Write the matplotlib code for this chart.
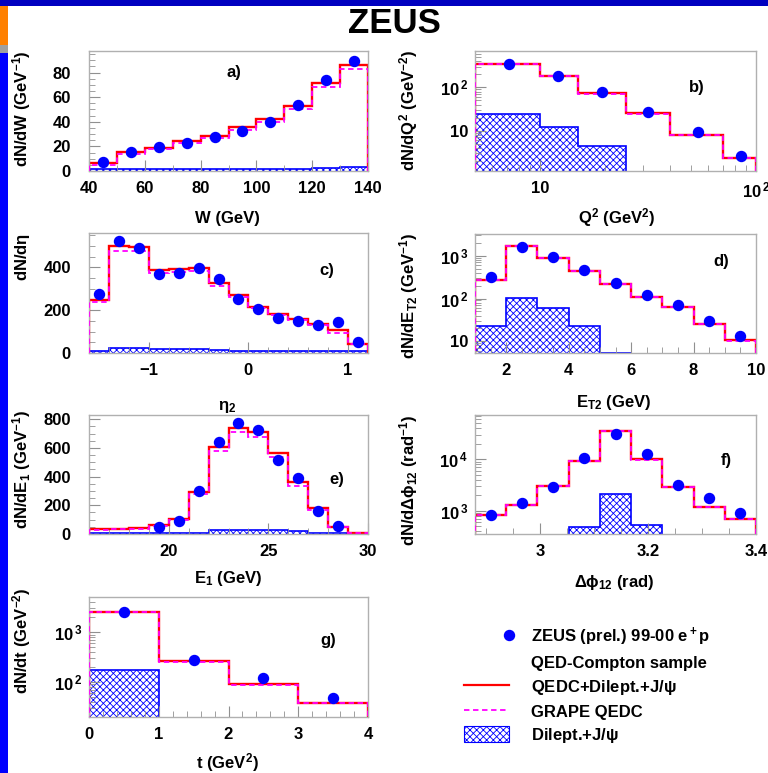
import numpy as np
import matplotlib
matplotlib.use('Agg')
import matplotlib.pyplot as plt
from matplotlib.ticker import MultipleLocator, AutoMinorLocator, LogLocator, FuncFormatter, NullFormatter
from matplotlib.lines import Line2D
from matplotlib.patches import Patch, Rectangle
from matplotlib.legend_handler import HandlerLine2D

plt.rcParams['font.family'] = ['Liberation Sans', 'DejaVu Sans']
plt.rcParams['font.weight'] = 'bold'
plt.rcParams['mathtext.fontset'] = 'custom'
plt.rcParams['mathtext.rm'] = 'Liberation Sans:bold'
plt.rcParams['mathtext.it'] = 'Liberation Sans:bold'
plt.rcParams['mathtext.bf'] = 'Liberation Sans:bold'
plt.rcParams['hatch.color'] = 'blue'
plt.rcParams['hatch.linewidth'] = 0.6

########################
# Data
########################
# a) W
w_edges = [40, 50, 60, 70, 80, 90, 100, 110, 120, 130, 140]
w_centers = [45, 55, 65, 75, 85, 95, 105, 115, 125, 135]
w_data = [7.6, 15.7, 19.5, 23.0, 27.9, 32.8, 39.8, 53.9, 74.0, 89.2]
w_qedc = [6.2, 15.2, 19.0, 24.7, 28.7, 35.5, 42.3, 53.1, 71.3, 86.4]
w_grape = [5.0, 13.5, 17.5, 23.0, 27.0, 33.5, 40.0, 50.5, 68.0, 82.5]
w_dilep = [1.5, 1.5, 1.5, 1.5, 1.5, 1.5, 1.5, 1.8, 2.5, 3.0]

# b) Q2
q2_edges = [5, 10, 15, 25, 40, 70, 100]
q2_centers = [7.2, 12.1, 19.3, 31.7, 54, 85]
q2_data = [350, 180, 77, 27, 9.3, 2.6]
q2_qedc = [345, 185, 73, 25, 8.0, 2.4]
q2_grape = [340, 181, 71, 24.5, 7.9, 2.35]
q2_dil_edges = [5, 10, 15, 25]
q2_dilep = [24, 12.4, 4.5]

# c) eta2
eta_edges = [-1.6, -1.4, -1.2, -1.0, -0.8, -0.6, -0.4, -0.2, 0.0, 0.2, 0.4, 0.6, 0.8, 1.0, 1.2]
eta_centers = [-1.5, -1.3, -1.1, -0.9, -0.7, -0.5, -0.3, -0.1, 0.1, 0.3, 0.5, 0.7, 0.9, 1.1]
eta_data = [276, 525, 489, 368, 375, 399, 346, 252, 206, 164, 150, 131, 143, 50]
eta_qedc = [249, 501, 495, 389, 392, 399, 327, 271, 215, 184, 159, 135, 109, 44]
eta_grape = [237, 475, 475, 375, 380, 385, 315, 262, 208, 178, 153, 130, 95, 40]
eta_dilep = [10, 25, 25, 18, 18, 18, 12, 10, 10, 10, 10, 10, 10, 8]

# d) ET2
et_edges = [1, 2, 3, 4, 5, 6, 7, 8, 9, 10]
et_centers = [1.5, 2.5, 3.5, 4.5, 5.5, 6.5, 7.5, 8.5, 9.5]
et_data = [316, 1630, 948, 454, 232, 118, 70, 30, 13]
et_qedc = [279, 1720, 897, 436, 217, 111, 63, 26, 10.5]
et_grape = [275, 1700, 885, 430, 214, 110, 62, 25.5, 10.3]
et_dil_edges = [1, 2, 3, 4, 5, 6]
et_dilep = [22.4, 103, 60, 22.4, 5.3]

# e) E1
e1_edges = [16, 17, 18, 19, 20, 21, 22, 23, 24, 25, 26, 27, 28, 29, 30]
e1_centers = [19.5, 20.5, 21.5, 22.5, 23.5, 24.5, 25.5, 26.5, 27.5, 28.5]
e1_data = [51, 93, 301, 645, 777, 725, 517, 394, 158, 58]
e1_qedc = [35, 37, 40, 65, 104, 290, 610, 739, 711, 568, 366, 181, 51, 7]
e1_grape = [30, 32, 35, 58, 96, 280, 580, 711, 680, 538, 336, 170, 47, 6]
e1_dilep = [5, 5, 5, 5, 5, 8, 25, 28, 28, 30, 20, 8, 5, 5]

# f) delta phi12
dphi_edges = [2.88, 2.9378, 2.9956, 3.0533, 3.1111, 3.1689, 3.2267, 3.2844, 3.3422, 3.40]
dphi_centers = [2.909, 2.967, 3.024, 3.082, 3.140, 3.198, 3.256, 3.313, 3.371]
dphi_data = [820, 1390, 2940, 10800, 30800, 12700, 3210, 1790, 890]
dphi_qedc = [825, 1290, 3070, 9440, 35700, 10000, 2900, 1200, 688]
dphi_grape = [810, 1270, 3020, 9300, 35000, 9850, 2850, 1180, 675]
dphi_dil_edges = [3.0533, 3.1111, 3.1689, 3.2267]
dphi_dilep = [488, 2120, 525]

# g) t
t_edges = [0, 1, 2, 3, 4]
t_centers = [0.5, 1.5, 2.5, 3.5]
t_data = [2600, 284, 122, 47]
t_qedc = [2550, 263, 90, 39]
t_grape = [2500, 258, 88, 38]
t_dil_edges = [0, 1]
t_dilep = [174]

W, H = 768, 773
fig = plt.figure(figsize=(W / 100, H / 100), dpi=100)
HATCH = 'xxxxx'


def px_axes(left, top, right, bottom):
    return fig.add_axes([left / W, 1 - bottom / H, (right - left) / W, (bottom - top) / H])


def log_fmt(v, pos):
    e = int(round(np.log10(v)))
    if e == 1:
        return '10'
    return '10$^{\\,%d}$' % e


def draw_panel(ax, edges, centers, data, qedc, grape, dil_edges, dilep, ylim, log=False, tag='', tagpos=(0.85, 0.7)):
    base = ylim[0] / 10 if log else 0
    if log:
        ax.set_yscale('log')
    ax.stairs(dilep, dil_edges, baseline=base, fill=True, facecolor='white', edgecolor='blue',
              hatch=HATCH, lw=1.2, zorder=1)
    ax.stairs(qedc, edges, baseline=base, color='red', lw=1.7, zorder=2)
    ax.stairs(grape, edges, baseline=base, color='magenta', lw=1.3, ls=(0, (3, 2)), zorder=3)
    ax.plot(centers, data, 'o', color='blue', ms=7.2, zorder=4, clip_on=False)
    ax.set_xlim(edges[0], edges[-1])
    ax.set_ylim(*ylim)
    ax.text(tagpos[0], tagpos[1], tag, transform=ax.transAxes, fontsize=12, ha='center', va='center')
    for s in ax.spines.values():
        s.set_color('#b0b0b0')
        s.set_linewidth(1.0)
    ax.tick_params(which='both', direction='in', top=False, right=False, color='#909090', labelsize=12)
    ax.tick_params(which='major', length=8)
    ax.tick_params(which='minor', length=4)
    ax.tick_params(axis='x', pad=7)
    ax.tick_params(axis='y', pad=13)
    if log:
        ax.yaxis.set_major_locator(LogLocator(base=10))
        ax.yaxis.set_major_formatter(FuncFormatter(log_fmt))
        ax.yaxis.set_minor_formatter(NullFormatter())
        ax.tick_params(axis='y', pad=5)


def ylab(text, x, top):
    fig.text(x / W, 1 - top / H, text, rotation=90, ha='center', va='top', fontsize=12)


def xlab(text, x, y):
    fig.text(x / W, 1 - y / H, text, ha='center', va='center', fontsize=12)


class RightMarkerHandler(HandlerLine2D):
    # marker drawn at the right end of the legend handle, as in the ROOT legend
    def create_artists(self, *args, **kwargs):
        arts = super().create_artists(*args, **kwargs)
        for a in arts:
            a.set_markevery([len(a.get_xdata()) - 1])
        return arts


########################
# a) W
########################
ax = px_axes(89, 51, 368, 171)
draw_panel(ax, w_edges, w_centers, w_data, w_qedc, w_grape, w_edges, w_dilep, (0, 97.5),
           tag='a)', tagpos=(0.52, 0.825))
ax.xaxis.set_major_locator(MultipleLocator(20))
ax.xaxis.set_minor_locator(AutoMinorLocator(2))
ax.yaxis.set_major_locator(MultipleLocator(20))
ax.yaxis.set_minor_locator(AutoMinorLocator(4))
xlab('W (GeV)', 227, 218)
ylab('dN/dW (GeV$^{-1}$)', 22, 50)

########################
# b) Q2
########################
ax = px_axes(475, 51, 756, 171)
ax.set_xscale('log')
draw_panel(ax, q2_edges, q2_centers, q2_data, q2_qedc, q2_grape, q2_dil_edges, q2_dilep, (1.18, 690),
           log=True, tag='b)', tagpos=(0.79, 0.70))
ax.xaxis.set_major_formatter(FuncFormatter(log_fmt))
ax.xaxis.set_minor_formatter(NullFormatter())
xlab('Q$^2$ (GeV$^2$)', 617, 218)
ylab('dN/dQ$^2$ (GeV$^{-2}$)', 409, 50)

########################
# c) eta2
########################
ax = px_axes(89, 233, 368, 353)
draw_panel(ax, eta_edges, eta_centers, eta_data, eta_qedc, eta_grape, eta_edges, eta_dilep, (0, 560),
           tag='c)', tagpos=(0.853, 0.69))
ax.xaxis.set_major_locator(MultipleLocator(1))
ax.xaxis.set_minor_locator(AutoMinorLocator(5))
ax.yaxis.set_major_locator(MultipleLocator(200))
ax.yaxis.set_minor_locator(AutoMinorLocator(4))
xlab('$\\eta_2$', 227, 407)
ylab('dN/d$\\eta$', 22, 233)

########################
# d) ET2
########################
ax = px_axes(475, 234, 756, 353)
draw_panel(ax, et_edges, et_centers, et_data, et_qedc, et_grape, et_dil_edges, et_dilep, (5.3, 3250),
           log=True, tag='d)', tagpos=(0.875, 0.767))
ax.xaxis.set_major_locator(MultipleLocator(2))
ax.xaxis.set_minor_locator(AutoMinorLocator(4))
xlab('E$_{T2}$ (GeV)', 614, 402)
ylab('dN/dE$_{T2}$ (GeV$^{-1}$)', 409, 233)

########################
# e) E1
########################
ax = px_axes(89, 415, 368, 534)
draw_panel(ax, e1_edges, e1_centers, e1_data, e1_qedc, e1_grape, e1_edges, e1_dilep, (0, 830),
           tag='e)', tagpos=(0.888, 0.461))
ax.xaxis.set_major_locator(MultipleLocator(5))
ax.xaxis.set_minor_locator(AutoMinorLocator(5))
ax.yaxis.set_major_locator(MultipleLocator(200))
ax.yaxis.set_minor_locator(AutoMinorLocator(4))
xlab('E$_1$ (GeV)', 228, 579)
ylab('dN/dE$_1$ (GeV$^{-1}$)', 22, 410)

########################
# f) delta phi12
########################
ax = px_axes(475, 415, 756, 534)
draw_panel(ax, dphi_edges, dphi_centers, dphi_data, dphi_qedc, dphi_grape, dphi_dil_edges, dphi_dilep,
           (350, 73000), log=True, tag='f)', tagpos=(0.893, 0.617))
ax.xaxis.set_major_locator(MultipleLocator(0.2))
ax.xaxis.set_minor_locator(AutoMinorLocator(4))
ax.xaxis.set_major_formatter(FuncFormatter(lambda v, p: '%g' % round(v, 2)))
xlab('$\\Delta\\phi_{12}$ (rad)', 614, 583)
ylab('dN/d$\\Delta\\phi_{12}$ (rad$^{-1}$)', 409, 415)

########################
# g) t
########################
ax = px_axes(89, 597, 368, 717)
draw_panel(ax, t_edges, t_centers, t_data, t_qedc, t_grape, t_dil_edges, t_dilep, (20, 5100),
           log=True, tag='g)', tagpos=(0.858, 0.64))
ax.xaxis.set_major_locator(MultipleLocator(1))
ax.xaxis.set_minor_locator(AutoMinorLocator(5))
xlab('t (GeV$^2$)', 227, 763)
ylab('dN/dt (GeV$^{-2}$)', 22, 587)

########################
# Legend
########################
h_data = Line2D([], [], marker='o', color='blue', ls='none', ms=7.2)
h_blank = Line2D([], [], color='none')
h_qedc = Line2D([], [], color='red', lw=1.6)
h_grape = Line2D([], [], color='magenta', lw=1.3, ls=(0, (3, 2)))
h_dil = Patch(facecolor='white', edgecolor='blue', hatch=HATCH, lw=0.8)
fig.legend([h_data, h_blank, h_qedc, h_grape, h_dil],
           ['ZEUS (prel.) 99-00 e$^+$p', 'QED-Compton sample', 'QEDC+Dilept.+J/$\\psi$',
            'GRAPE QEDC', 'Dilept.+J/$\\psi$'],
           handler_map={h_data: RightMarkerHandler(numpoints=2, marker_pad=0)},
           loc='upper left', bbox_to_anchor=(464 / W, 1 - 626 / H), frameon=False, fontsize=12,
           handlelength=2.7, handleheight=1.1, handletextpad=1.3, labelspacing=0.38,
           borderpad=0, borderaxespad=0)

########################
# Slide decoration and title
########################
fig.add_artist(Rectangle((0, 1 - 6 / H), 1, 6 / H, transform=fig.transFigure, color='#0000c0', lw=0))
fig.add_artist(Rectangle((0, 0), 8.3 / W, 1 - 53 / H, transform=fig.transFigure, color='#0000ff', lw=0))
fig.add_artist(Rectangle((0, 1 - 45 / H), 8 / W, 39 / H, transform=fig.transFigure, color='#ff8000', lw=0))
fig.add_artist(Rectangle((0, 1 - 53 / H), 8 / W, 8 / H, transform=fig.transFigure, color='#a0a0a0', lw=0))
fig.text(394 / W, 1 - 33 / H, 'ZEUS', ha='center', va='baseline', fontsize=25, fontweight='bold')

fig.savefig('out.png', dpi=100)
